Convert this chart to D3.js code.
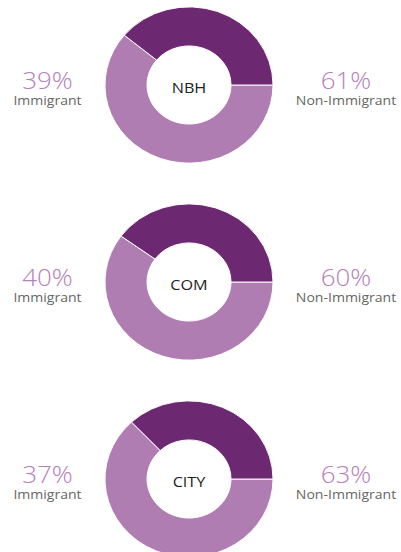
<!DOCTYPE html>
<html lang="en">
<head>
  <meta charset="UTF-8">
  <title>Immigrant share by area</title>
  <script src="https://d3js.org/d3.v7.min.js"></script>
  <style>
    body {
      margin: 0;
      background: #fff;
      font-family: 'Open Sans', sans-serif;
    }
    svg { display: block; }
  </style>
</head>
<body>
  <div id="chart"></div>
  <script>
    const areas = ["NBH", "COM", "CITY"];
    const immigrant = [39, 40, 37];
    const nonImmigrant = [61, 60, 63];
    const groupLabels = ["Immigrant", "Non-Immigrant"];

    const width = 401, height = 552;
    const cx = 189, firstCy = 85, step = 197;
    const outerR = 84, innerR = 42, squash = 0.93;
    const stretch = 1.08; // picture is a bit wider than tall

    const darkColor = "#6d2872", lightColor = "#b07db2";

    const svg = d3.select("#chart").append("svg")
      .attr("width", width)
      .attr("height", height);

    const pie = d3.pie()
      .sort(null)
      .value(d => d.value)
      .startAngle(Math.PI / 2)
      .endAngle(Math.PI / 2 + 2 * Math.PI);

    const arc = d3.arc().innerRadius(innerR).outerRadius(outerR);

    const yPos = d3.scaleLinear().domain([0, 1]).range([firstCy, firstCy + step]);

    areas.forEach((name, i) => {
      const cy = yPos(i);
      const g = svg.append("g").attr("transform", `translate(${cx},${cy})`);

      const slices = [
        { key: "non", value: nonImmigrant[i], color: lightColor },
        { key: "imm", value: immigrant[i], color: darkColor }
      ];

      g.append("g")
        .attr("transform", `scale(1,${squash})`)
        .selectAll("path")
        .data(pie(slices))
        .enter().append("path")
        .attr("d", arc)
        .attr("fill", d => d.data.color)
        .attr("stroke", "#fff")
        .attr("stroke-width", 1);

      g.append("text")
        .attr("transform", `translate(0,8) scale(${stretch},1)`)
        .attr("text-anchor", "middle")
        .style("font-size", "15px")
        .style("fill", "#222")
        .text(name);

      // left: immigrant, right: non-immigrant
      [[immigrant[i], groupLabels[0], 47.5 - cx], [nonImmigrant[i], groupLabels[1], 346 - cx]]
        .forEach(([v, lbl, x]) => {
          const t = g.append("g").attr("transform", `translate(${x},0) scale(${stretch},1)`);
          t.append("text")
            .attr("y", 4)
            .attr("text-anchor", "middle")
            .style("font-size", "24px")
            .style("font-weight", 300)
            .style("fill", "#b580bb")
            .text(v + "%");
          t.append("text")
            .attr("y", 20)
            .attr("text-anchor", "middle")
            .style("font-size", "13px")
            .style("fill", "#666")
            .text(lbl);
        });
    });
  </script>
</body>
</html>
